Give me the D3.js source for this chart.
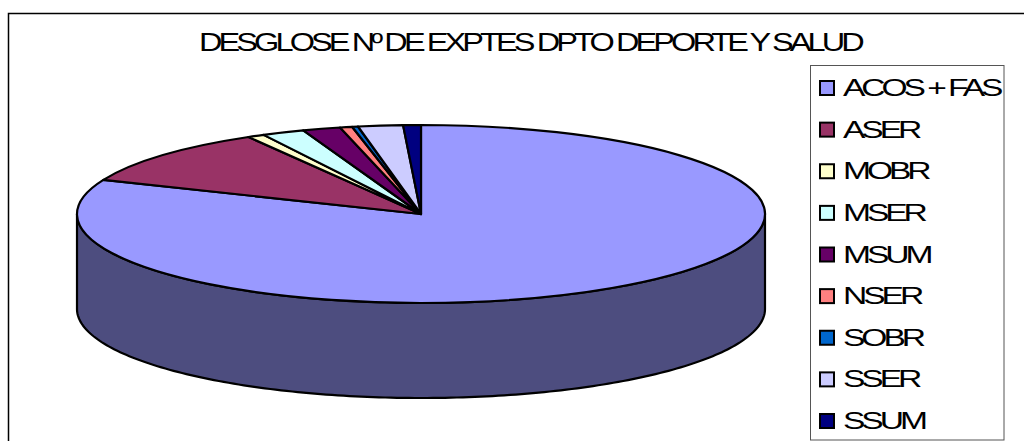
<!DOCTYPE html>
<html>
<head>
<meta charset="utf-8">
<script src="https://cdn.jsdelivr.net/npm/d3@7"></script>
<style>
  html, body { margin: 0; padding: 0; background: #fff; overflow: hidden; }
  text { font-family: "Liberation Sans", Arial, sans-serif; fill: #000; }
</style>
</head>
<body>
<div id="chart"></div>
<script>
//chart data (percent of total)
var categories = ["ACOS + FAS", "ASER", "MOBR", "MSER", "MSUM", "NSER", "SOBR", "SSER", "SSUM"];
var values = [81.25, 10.36, 0.8, 2.0, 1.78, 0.57, 0.28, 2.1, 0.83];
var colors = ["#9999ff", "#993366", "#ffffcc", "#ccffff", "#660066", "#ff8080", "#0066cc", "#ccccff", "#000080"];
var title = "DESGLOSE Nº DE EXPTES DPTO DEPORTE Y SALUD";

//setting svg dimension
var svgWidth = 1024;
var svgHeight = 441;

//pie geometry
var cx = 421, cy = 214, rx = 344, ry = 89, depth = 95;

var svg = d3.select("#chart")
  .append("svg")
  .attr("width", svgWidth)
  .attr("height", svgHeight)
  .style("display", "block");

//outer frame, runs off the right and bottom of the picture
svg.append("rect")
  .attr("x", 8.5)
  .attr("y", 13.5)
  .attr("width", 1040)
  .attr("height", 460)
  .attr("fill", "#fff")
  .attr("stroke", "#000")
  .attr("stroke-width", 1.5);

//title, stretched wide and set tight like the original
svg.append("text")
  .attr("transform", "translate(199, 51) scale(1.3, 1)")
  .style("font-size", "25px")
  .style("letter-spacing", "-3px")
  .text(title);

var color = d3.scaleOrdinal().domain(categories).range(colors);

var pie = d3.pie().sort(null).value(d => d.value);
var slices = pie(categories.map((c, i) => ({ name: c, value: values[i] })));

//side wall: front half of the ellipse, all of it belongs to the first slice
var wallAngles = d3.range(90, 270.5, 1).map(d => d * Math.PI / 180);
var wall = d3.area()
  .x(t => cx + rx * Math.sin(t))
  .y0(t => cy - ry * Math.cos(t))
  .y1(t => cy - ry * Math.cos(t) + depth);

svg.append("path")
  .datum(wallAngles)
  .attr("d", wall)
  .attr("fill", "#4d4d7f")
  .attr("stroke", "#000")
  .attr("stroke-width", 2.2);

//top of the pie, circle squashed into an ellipse
var arc = d3.arc().innerRadius(0).outerRadius(rx);

svg.append("g")
  .attr("transform", `translate(${cx}, ${cy}) scale(1, ${ry / rx})`)
  .selectAll("path")
  .data(slices)
  .enter()
  .append("path")
  .attr("d", arc)
  .attr("fill", d => color(d.data.name))
  .attr("stroke", "#000")
  .attr("stroke-width", 2.2)
  .attr("stroke-linejoin", "round")
  .attr("vector-effect", "non-scaling-stroke");

//legend
svg.append("rect")
  .attr("x", 810.5)
  .attr("y", 65.5)
  .attr("width", 193.5)
  .attr("height", 374.5)
  .attr("fill", "#fff")
  .attr("stroke", "#555")
  .attr("stroke-width", 1);

var legendY = d3.scalePoint().domain(categories).range([88, 421]);

var legend = svg.selectAll(".legend-item")
  .data(categories)
  .enter()
  .append("g")
  .attr("class", "legend-item")
  .attr("transform", d => `translate(0, ${legendY(d)})`);

legend.append("rect")
  .attr("x", 820)
  .attr("y", -7)
  .attr("width", 14)
  .attr("height", 14)
  .attr("fill", d => color(d))
  .attr("stroke", "#000")
  .attr("stroke-width", 2);

legend.append("text")
  .attr("transform", "translate(843, 8) scale(1.4, 1)")
  .style("font-size", "24px")
  .style("letter-spacing", "-2.9px")
  .text(d => d);
</script>
</body>
</html>
